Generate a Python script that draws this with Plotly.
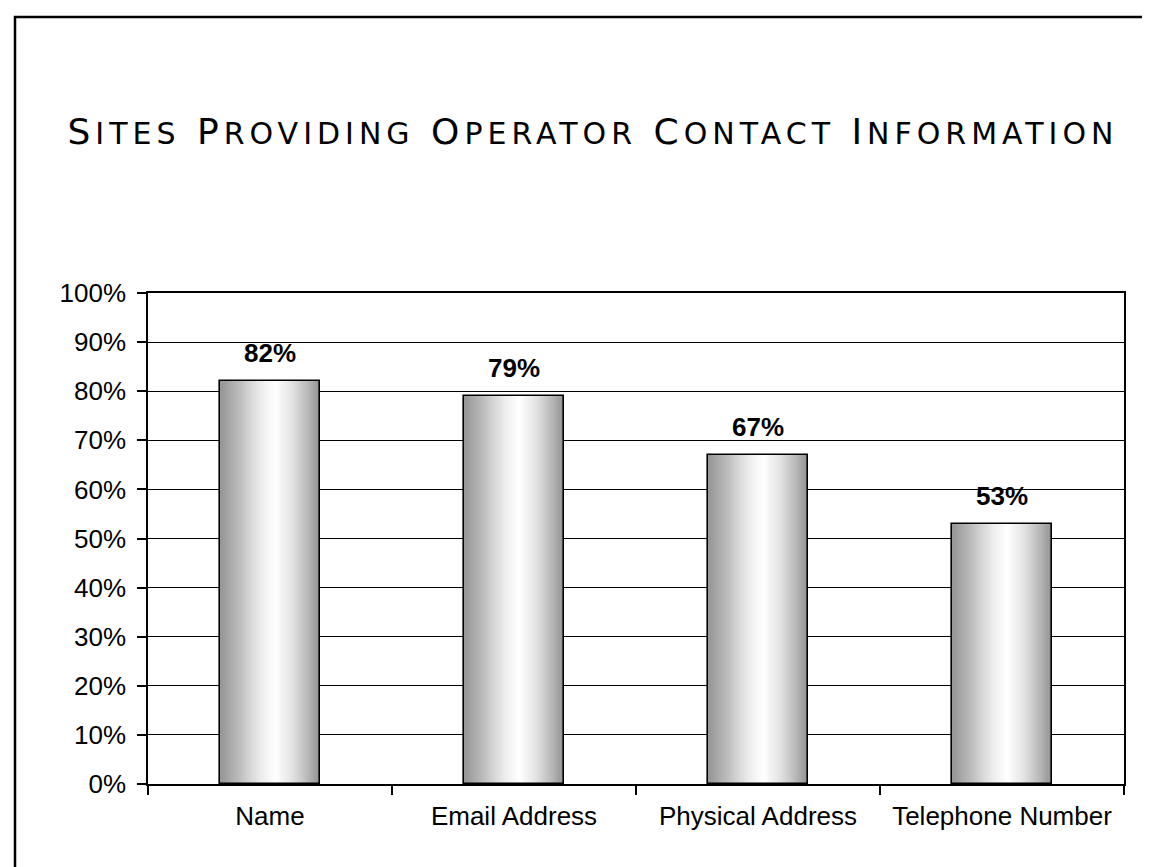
import plotly.graph_objects as go

# chart data
categories = ["Name", "Email Address", "Physical Address", "Telephone Number"]
shares = [0.82, 0.79, 0.67, 0.53]
labels = ["82%", "79%", "67%", "53%"]
title_text = "Sites Providing Operator Contact Information"

W, H = 1150, 867
M_L, M_R, M_T, M_B = 140, 34, 285, 91
PLOT_W = W - M_L - M_R
PLOT_H = H - M_T - M_B

BAR_W = 0.406      # bar width as a fraction of the category slot
N_SLICES = 48      # thin slices that fake the cylinder shading

# grey level across the bar (position 0..1 -> grey value)
shade_stops = [(0.0, 150), (0.2, 190), (0.4, 236), (0.56, 255), (0.72, 226), (0.88, 185), (1.0, 148)]


def shade(t):
    for (t0, g0), (t1, g1) in zip(shade_stops, shade_stops[1:]):
        if t0 <= t <= t1:
            g = g0 + (g1 - g0) * (t - t0) / (t1 - t0)
            g = int(round(g))
            return "rgb(%d,%d,%d)" % (g, g, g)
    return "rgb(150,150,150)"


def small_caps(text, small=30, spacing=5):
    # wide engraved-style small caps: full size first letter, smaller capitals after
    parts = []
    for word in text.split(" "):
        parts.append('<span style="letter-spacing:%spx">%s</span>' % (spacing, word[0].upper())
                     + '<span style="font-size:%dpx;letter-spacing:%spx">%s</span>' % (small, spacing, word[1:].upper()))
    return ('<span style="letter-spacing:%spx"> </span>' % spacing).join(parts)


fig = go.Figure()

slice_w = BAR_W / N_SLICES
for i in range(N_SLICES):
    fig.add_trace(go.Bar(
        x=categories,
        y=shares,
        width=slice_w * 1.15,
        offset=-BAR_W / 2 + i * slice_w,
        marker=dict(color=shade((i + 0.5) / N_SLICES), line=dict(width=0)),
        showlegend=False,
        hoverinfo="skip",
    ))

# outline on top of the shading
fig.add_trace(go.Bar(
    x=categories,
    y=shares,
    width=BAR_W,
    marker=dict(color="rgba(0,0,0,0)", line=dict(color="black", width=1.6)),
    showlegend=False,
    hovertemplate="%{x}: %{y:.0%}<extra></extra>",
))

# value labels above the bars
for cat, val, lab in zip(categories, shares, labels):
    fig.add_annotation(
        x=cat, y=val, text="<b>%s</b>" % lab,
        showarrow=False, yanchor="bottom", yshift=11,
        font=dict(family="Liberation Sans, Arial", size=26, color="black"),
    )

# outer frame (right and bottom edges fall outside the page)
fig.add_shape(
    type="rect", xref="paper", yref="paper",
    x0=(7 - M_L) / PLOT_W, x1=(W + 20 - M_L) / PLOT_W,
    y0=-(M_B + 20) / PLOT_H, y1=(H - M_B - 9) / PLOT_H,
    line=dict(color="black", width=2.5),
)

fig.update_layout(
    width=W,
    height=H,
    margin=dict(l=M_L, r=M_R, t=M_T, b=M_B),
    barmode="overlay",
    bargap=0,
    plot_bgcolor="white",
    paper_bgcolor="white",
    font=dict(family="Liberation Sans, Arial", size=26, color="black"),
    title=dict(
        text=small_caps(title_text),
        xref="container", x=585 / W, xanchor="center",
        yref="container", y=1 - 123 / H, yanchor="middle",
        font=dict(family="DejaVu Sans", size=36, color="black"),
    ),
)

fig.update_xaxes(
    showline=True, linecolor="black", linewidth=1.5, mirror=True,
    ticks="outside", tickson="boundaries", ticklen=9, tickcolor="black", tickwidth=1.5,
    showgrid=False,
    tickfont=dict(size=26),
    ticklabelstandoff=8,
)

fig.update_yaxes(
    range=[0, 1], dtick=0.1, tickformat=".0%",
    showline=True, linecolor="black", linewidth=1.5, mirror=True,
    ticks="outside", ticklen=9, tickcolor="black", tickwidth=1.5,
    showgrid=True, gridcolor="black", gridwidth=1.2,
    zeroline=False,
    tickfont=dict(size=26),
    ticklabelstandoff=6,
)

fig.write_html("out.html")
